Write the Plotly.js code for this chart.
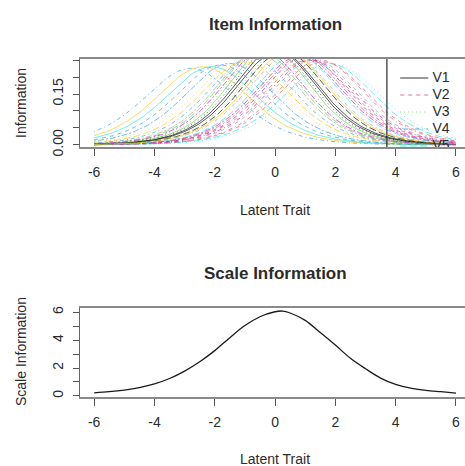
<!DOCTYPE html>
<html>
<head>
<meta charset="utf-8">
<script src="https://cdn.plot.ly/plotly-3.0.1.min.js"></script>
<style>html,body{margin:0;padding:0;background:#fff;}#chart{width:465px;height:466px;}</style>
</head>
<body>
<div id="chart"></div>
<script>
// ---- data ----
const itemNames = ['V1','V2','V3','V4','V5','V6','V7','V8','V9','V10','V11','V12','V13','V14','V15','V16',
  'V17','V18','V19','V20','V21','V22','V23','V24','V25','V26','V27','V28','V29','V30','V31'];
// item location (difficulty) and slope, estimated from the item curves
const itemLocation = [0.1, 1.1, -0.3, -2.8, 1.8, 0.8, -2.4, 1.3, -0.1, 1.5, -0.5, -1.5, -2.1, 1.0, -1.2, 0.5,
  0.3, 0.9, -0.2, -1.8, 2.0, 1.2, -1.0, -0.6, 0.0, 1.6, 0.2, -0.8, 0.7, -0.4, 0.4];
const itemSlope = [1.05, 1.00, 1.06, 0.95, 0.98, 1.02, 0.96, 1.00, 1.06, 1.00, 1.05, 0.98, 0.96, 1.02, 0.98, 1.03,
  1.05, 1.02, 1.07, 0.97, 0.97, 1.00, 0.99, 1.04, 1.06, 0.99, 1.05, 1.01, 1.03, 1.05, 1.04];
// scale information curve
const scaleTheta = [-6, -5.5, -5, -4.5, -4, -3.5, -3, -2.5, -2, -1.5, -1, -0.5, 0, 0.25, 0.5, 1, 1.5, 2, 2.5, 3, 3.5, 4, 4.5, 5, 5.5, 6];
const scaleInfo  = [0.22, 0.30, 0.42, 0.60, 0.86, 1.25, 1.78, 2.45, 3.25, 4.18, 5.05, 5.68, 6.04, 6.09, 5.95, 5.42, 4.55, 3.65, 2.70, 1.95, 1.28, 0.82, 0.55, 0.40, 0.30, 0.20];
// tick labels
const xTickVals = [-6, -4, -2, 0, 2, 4, 6];
const xTickText = ['-6', '-4', '-2', '0', '2', '4', '6'];
const infoTickVals = [0, 0.05, 0.10, 0.15, 0.20, 0.25];
const infoTickText = ['0.00', '', '', '0.15', '', ''];
const scaleTickVals = [0, 1, 2, 3, 4, 5, 6];
const scaleTickText = ['0', '', '2', '', '4', '', '6'];

// ---- styling ----
const palette = ['#000000', '#DF536B', '#61D04F', '#2297E6', '#28E2E5', '#CD0BBC', '#F5C710', '#9E9E9E'];
const dashes = ['solid', '4px,4px', '1px,3px', '1px,3px,4px,3px', '7px,3px', '2px,2px,6px,2px'];
const FONT = 'Liberation Sans, Arial, sans-serif';
const TXT = '#2b2b2b';

const W = 465, H = 466, ML = 80;
const xRange = [-6.47, 6.30];
const infoRange = [-0.006, 0.253];
const scaleRange = [-0.08, 6.31];
// pixel positions of panels (top, bottom)
const topPanel = [59, 147], botPanel = [308, 397];
const dom = p => [(H - p[1]) / H, (H - p[0]) / H];

// theta grid for the item curves
const grid = [];
for (let t = -60; t <= 60; t++) grid.push(t / 10);

const traces = [];
itemLocation.forEach((b, i) => {
  const a = itemSlope[i];
  const y = grid.map(t => { const p = 1 / (1 + Math.exp(-a * (t - b))); return a * a * p * (1 - p); });
  traces.push({
    x: grid, y: y, type: 'scatter', mode: 'lines', xaxis: 'x', yaxis: 'y',
    line: {color: palette[i % 8], dash: dashes[i % 6], width: 1}, opacity: 0.65,
    name: itemNames[i], showlegend: false, hoverinfo: 'skip'
  });
});

// legend (R style, clipped to plot box)
const pxPerUnit = (topPanel[1] - topPanel[0]) / (infoRange[1] - infoRange[0]);
const legendX0 = 4.15, legendX1 = 5.08, legendTextX = 5.22;
const legendN = 5;
const legY = k => infoRange[1] - (19 + 17 * k) / pxPerUnit;
for (let k = 0; k < legendN; k++) {
  traces.push({
    x: [legendX0, legendX1], y: [legY(k), legY(k)], type: 'scatter', mode: 'lines',
    xaxis: 'x', yaxis: 'y', line: {color: palette[k % 8], dash: dashes[k % 6], width: 1}, opacity: 0.8,
    showlegend: false, hoverinfo: 'skip'
  });
}
traces.push({
  x: itemNames.slice(0, legendN).map(() => legendTextX),
  y: itemNames.slice(0, legendN).map((_, k) => legY(k)),
  text: itemNames.slice(0, legendN), type: 'scatter', mode: 'text', textposition: 'middle right',
  textfont: {family: FONT, size: 14, color: TXT}, cliponaxis: true,
  xaxis: 'x', yaxis: 'y', showlegend: false, hoverinfo: 'skip'
});

traces.push({
  x: scaleTheta, y: scaleInfo, type: 'scatter', mode: 'lines', xaxis: 'x2', yaxis: 'y2',
  line: {color: '#1a1a1a', width: 1.3, shape: 'spline', smoothing: 1}, showlegend: false, hoverinfo: 'skip'
});

const xCommon = {
  range: xRange, tickvals: xTickVals, ticktext: xTickText, ticks: 'outside', ticklen: 7, tickwidth: 1,
  tickcolor: '#555', showline: true, mirror: true, linecolor: '#8a8a8a', linewidth: 2,
  showgrid: false, zeroline: false, tickfont: {family: FONT, size: 14, color: TXT},
  ticklabelstandoff: 4, domain: [0, 1]
};
const yCommon = {
  ticks: 'outside', ticklen: 6, tickwidth: 1, tickcolor: '#555', showline: true, linecolor: '#666',
  linewidth: 1, showgrid: false, zeroline: false, tickangle: -90,
  tickfont: {family: FONT, size: 14, color: TXT}, ticklabelstandoff: 4
};

const px2paperX = px => (px - ML) / (W - ML);
const px2paperY = py => (H - py) / H;
const ann = (text, px, py, size, angle) => ({
  text: text, x: px2paperX(px), y: px2paperY(py), xref: 'paper', yref: 'paper', showarrow: false,
  xanchor: 'center', yanchor: 'middle', textangle: angle || 0, font: {family: FONT, size: size, color: TXT}
});

const layout = {
  width: W, height: H, margin: {l: ML, r: 0, t: 0, b: 0}, paper_bgcolor: '#fff', plot_bgcolor: '#fff',
  showlegend: false,
  xaxis: Object.assign({}, xCommon, {anchor: 'y'}),
  yaxis: Object.assign({}, yCommon, {range: infoRange, tickvals: infoTickVals, ticktext: infoTickText, domain: dom(topPanel), anchor: 'x'}),
  xaxis2: Object.assign({}, xCommon, {anchor: 'y2'}),
  yaxis2: Object.assign({}, yCommon, {range: scaleRange, tickvals: scaleTickVals, ticktext: scaleTickText, domain: dom(botPanel), anchor: 'x2'}),
  shapes: [{type: 'line', xref: 'x', yref: 'y domain', x0: 3.71, x1: 3.71, y0: 0, y1: 1, line: {color: '#000', width: 1}}],
  annotations: [
    ann('<b>Item Information</b>', 275, 24, 17),
    ann('Latent Trait', 275, 210, 14),
    ann('Information', 21, 103, 14, -90),
    ann('<b>Scale Information</b>', 275, 273, 17),
    ann('Latent Trait', 275, 459, 14),
    ann('Scale Information', 21, 352, 14, -90)
  ]
};

Plotly.newPlot('chart', traces, layout, {staticPlot: true, displayModeBar: false});
</script>
</body>
</html>
